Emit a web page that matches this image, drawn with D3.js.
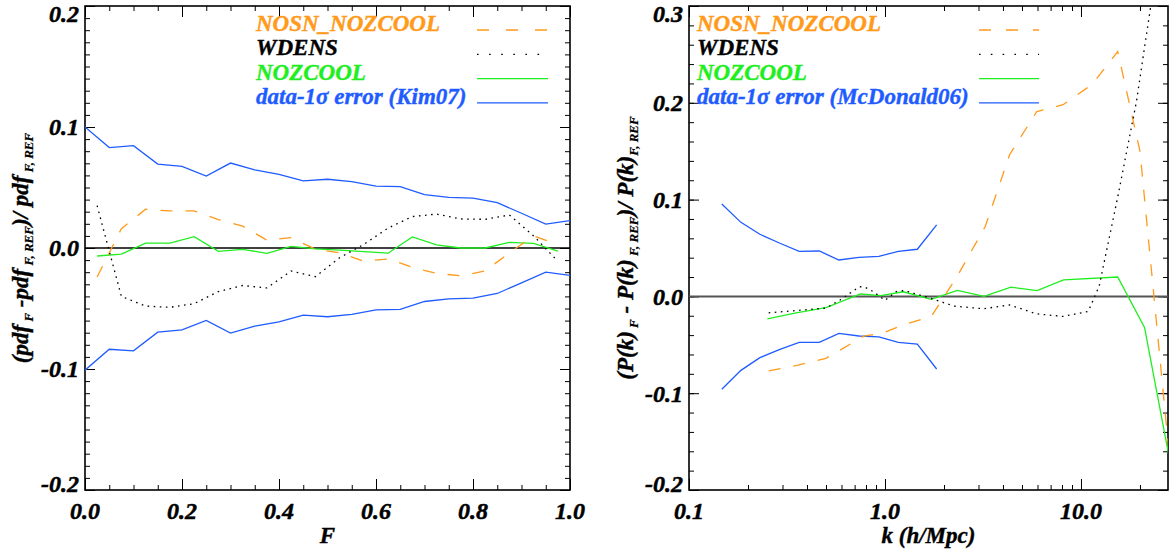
<!DOCTYPE html>
<html lang='en'>
<head>
<meta charset='UTF-8'>
<title>Flux pdf and P(k) residuals</title>
<script src='https://d3js.org/d3.v7.min.js'></script>
<style>
   body { margin: 0; background: #fff; }
   svg text { font-family: 'Liberation Serif', 'DejaVu Serif', serif; font-weight: bold; font-style: italic; }
</style>
</head>
<body>
<div id='chart'></div>
<script>

// ---- left panel: flux pdf residuals ----
const pdfF = [0.00, 0.05, 0.10, 0.15, 0.20, 0.25, 0.30, 0.35, 0.40, 0.45, 0.50,
              0.55, 0.60, 0.65, 0.70, 0.75, 0.80, 0.85, 0.90, 0.95, 1.00];
const pdfErrUp = [0.100, 0.083, 0.0846, 0.0694, 0.0675, 0.0595, 0.0702, 0.0645, 0.0609, 0.0554, 0.0568,
                  0.0548, 0.0512, 0.0507, 0.0441, 0.0419, 0.0413, 0.0375, 0.0287, 0.0198, 0.0226];
const pdfErrLo = [-0.101, -0.0837, -0.085, -0.0696, -0.0676, -0.0598, -0.0703, -0.0645, -0.061, -0.0555, -0.0568,
                  -0.0549, -0.0512, -0.0508, -0.0442, -0.042, -0.0414, -0.0376, -0.0288, -0.0199, -0.0227];
const pdfFMid = [0.025, 0.075, 0.125, 0.175, 0.225, 0.275, 0.325, 0.375, 0.425, 0.475,
                 0.525, 0.575, 0.625, 0.675, 0.725, 0.775, 0.825, 0.875, 0.925, 0.975];
const pdfNosn = [-0.024, 0.016, 0.032, 0.0306, 0.0306, 0.0235, 0.018, 0.0065, 0.0085, -0.001,
                 -0.004, -0.011, -0.009, -0.016, -0.021, -0.023, -0.019, -0.004, 0.010, 0.003];
const pdfWdens = [0.035, -0.040, -0.048, -0.049, -0.046, -0.036, -0.031, -0.033, -0.019, -0.0237,
                  -0.008, 0.003, 0.0165, 0.026, 0.028, 0.024, 0.0237, 0.0273, 0.010, -0.011];
const pdfNozcool = [-0.0066, -0.005, 0.0041, 0.0041, 0.0094, -0.0028, -0.0011, -0.0044, 0.0014, -0.0008,
                    -0.0017, -0.003, -0.0043, 0.0091, 0.0025, 0.0, 0.0, 0.0047, 0.0039, -0.0025];

// ---- right panel: P(k) residuals ----
const pkErrK = [0.147, 0.184, 0.230, 0.291, 0.365, 0.462, 0.582, 0.736, 0.931, 1.169, 1.462, 1.835];
const pkErrUp = [0.0955, 0.0765, 0.0642, 0.0549, 0.0466, 0.0469, 0.0376, 0.0404, 0.0414, 0.0466, 0.0487, 0.0738];
const pkErrLo = [-0.096, -0.0764, -0.0633, -0.0547, -0.0475, -0.0475, -0.0382, -0.0409, -0.0419, -0.0475, -0.0492, -0.075];

const nosnK = [0.255, 0.36, 0.50, 0.78, 0.97, 1.25, 1.72, 2.34, 3.25, 4.33, 5.95, 8.1, 11.4, 15.4, 20.0, 28.4];
const nosnV = [-0.077, -0.071, -0.064, -0.041, -0.038, -0.029, -0.021, 0.021, 0.0724, 0.1466, 0.191, 0.198, 0.219, 0.253, 0.150, -0.170];

const wdensK = [0.255, 0.36, 0.50, 0.59, 0.74, 0.79, 0.87, 1.0, 1.14, 1.26, 1.4, 1.6, 1.84, 2.24, 3.18, 4.33,
                5.9, 8.1, 10.9, 12.4, 15.4, 19.2, 22.7, 24.5];
const wdensV = [-0.017, -0.0145, -0.012, -0.0037, 0.010, 0.0095, 0.005, -0.004, 0.005, 0.006, 0.0032, -0.0003,
                -0.004, -0.010, -0.0128, -0.0088, -0.018, -0.0207, -0.0155, 0.011, 0.1026, 0.2015, 0.30, 0.345];

const nozK = [0.251, 0.352, 0.50, 0.75, 0.95, 1.24, 1.72, 2.34, 3.2, 4.39, 5.97, 8.15, 15.4, 21.1, 28.3];
const nozV = [-0.0232, -0.017, -0.0115, 0.0025, 0.0008, 0.0048, -0.003, 0.0062, 0.0, 0.0095, 0.006, 0.017, 0.020, -0.032, -0.168];

const legendNames = ['NOSN_NOZCOOL', 'WDENS', 'NOZCOOL'];
const orange = '#ff9a1a', green = '#1fee1f', blue = '#1f5cff';

const svg = d3.select('#chart').append('svg').attr('width', 1170).attr('height', 554);
const fmt = d => d3.format('.1f')(d).replace('\u2212', '-');

function panel(o) {
   const x = o.x, y = o.y;
   const [x0, x1] = x.range(), [y0, y1] = y.range(); // y0 bottom, y1 top
   const g = svg.append('g');

   g.append('clipPath').attr('id', o.id).append('rect')
      .attr('x', x0).attr('y', y1).attr('width', x1 - x0).attr('height', y0 - y1);

   // ticks on all four sides, pointing inward
   const tick = (axisFn, scale, values, len, tr) => {
      g.append('g').attr('transform', tr)
         .call(axisFn(scale).tickValues(values).tickSize(-len).tickFormat(''))
         .call(a => a.select('.domain').remove())
         .call(a => a.selectAll('line').attr('stroke', '#000'));
   };
   tick(d3.axisBottom, x, o.xMajor, 11, `translate(0,${y0})`);
   tick(d3.axisBottom, x, o.xMinor, 5, `translate(0,${y0})`);
   tick(d3.axisTop, x, o.xMajor, 11, `translate(0,${y1})`);
   tick(d3.axisTop, x, o.xMinor, 5, `translate(0,${y1})`);
   tick(d3.axisLeft, y, o.yMajor, 10, `translate(${x0},0)`);
   tick(d3.axisLeft, y, o.yMinor, 5, `translate(${x0},0)`);
   tick(d3.axisRight, y, o.yMajor, 10, `translate(${x1},0)`);
   tick(d3.axisRight, y, o.yMinor, 5, `translate(${x1},0)`);

   g.append('rect').attr('x', x0).attr('y', y1).attr('width', x1 - x0).attr('height', y0 - y1)
      .attr('fill', 'none').attr('stroke', '#000').attr('stroke-width', 1.6);

   // tick labels (a thin stroke makes them as heavy as the original)
   g.selectAll('.xl').data(o.xMajor).join('text')
      .attr('x', d => x(d)).attr('y', y0 + 29).attr('text-anchor', 'middle')
      .attr('font-size', 24).attr('stroke', '#000').attr('stroke-width', 0.5).text(fmt);
   g.selectAll('.yl').data(o.yMajor).join('text')
      .attr('x', x0 - 6).attr('y', d => Math.min(Math.max(y(d), y1 + 8), y0 - 6))
      .attr('dy', '0.35em').attr('text-anchor', 'end')
      .attr('font-size', 24).attr('stroke', '#000').attr('stroke-width', 0.5).text(fmt);

   // zero line
   g.append('line').attr('x1', x0).attr('x2', x1).attr('y1', y(0)).attr('y2', y(0))
      .attr('stroke', o.zeroColor).attr('stroke-width', o.zeroWidth);

   const line = d3.line().x(d => x(d[0])).y(d => y(d[1]));
   const plot = g.append('g').attr('clip-path', `url(#${o.id})`);
   o.series.forEach(s => {
      plot.append('path').datum(d3.zip(s.x, s.y))
         .attr('d', line).attr('fill', 'none')
         .attr('stroke', s.color).attr('stroke-width', 1.3)
         .attr('stroke-dasharray', s.dash || null);
   });

   // legend
   o.legend.forEach((e, i) => {
      const by = 31 + 24.3 * i;
      g.append('text').attr('x', o.legX).attr('y', by).attr('font-size', 23)
         .attr('fill', e.color).attr('stroke', e.color).attr('stroke-width', 0.4).text(e.name);
      g.append('line').attr('x1', o.legL[0]).attr('x2', o.legL[1]).attr('y1', by - 1).attr('y2', by - 1)
         .attr('stroke', e.color).attr('stroke-width', 1.3)
         .attr('stroke-dasharray', e.ldash || null);
   });

   // axis titles
   g.append('text').attr('x', (x0 + x1) / 2).attr('y', y0 + 53).attr('text-anchor', 'middle')
      .attr('font-size', 23).attr('stroke', '#000').attr('stroke-width', 0.4).text(o.xTitle);
   const yt = g.append('text').attr('transform', `translate(${o.yTitleX},${(y0 + y1) / 2}) rotate(-90)`)
      .attr('text-anchor', 'middle').attr('font-size', 23)
      .attr('stroke', '#000').attr('stroke-width', 0.4);
   o.yTitle.forEach(p => {
      yt.append('tspan').attr('font-size', p.sub ? 13 : 23).attr('stroke-width', p.sub ? 0.2 : 0.4)
         .attr('dy', p.sub ? 5 : (p.back ? -5 : 0)).text(p.t);
   });
}

const dashL = '12,13', dotL = '1.6,4.5';

panel({
   id: 'clipL',
   x: d3.scaleLinear().domain([0, 1]).range([85, 570]),
   y: d3.scaleLinear().domain([-0.2, 0.2]).range([490, 6]),
   xMajor: [0, 0.2, 0.4, 0.6, 0.8, 1.0],
   xMinor: d3.range(0, 1.0001, 0.05),
   yMajor: [-0.2, -0.1, 0, 0.1, 0.2],
   yMinor: d3.range(-0.2, 0.2001, 0.01),
   zeroColor: '#000', zeroWidth: 1.5,
   series: [
      { x: pdfF, y: pdfErrUp, color: blue },
      { x: pdfF, y: pdfErrLo, color: blue },
      { x: pdfFMid, y: pdfNozcool, color: green },
      { x: pdfFMid, y: pdfNosn, color: orange, dash: dashL },
      { x: pdfFMid, y: pdfWdens, color: '#000', dash: dotL }
   ],
   legX: 256, legL: [477, 548],
   legend: [
      { name: legendNames[0], color: orange, ldash: '12,17' },
      { name: legendNames[1], color: '#000', ldash: '1.6,10.5' },
      { name: legendNames[2], color: green },
      { name: 'data-1σ error (Kim07)', color: blue }
   ],
   xTitle: 'F',
   yTitleX: 28,
   yTitle: [{ t: '(pdf' }, { t: ' F', sub: 1 }, { t: ' -pdf', back: 1 }, { t: ' F, REF', sub: 1 },
            { t: ')/ pdf', back: 1 }, { t: ' F, REF', sub: 1 }]
});

panel({
   id: 'clipR',
   x: d3.scaleLog().domain([0.1, 27.8]).range([689, 1168]),
   y: d3.scaleLinear().domain([-0.2, 0.3]).range([490, 6]),
   xMajor: [0.1, 1, 10],
   xMinor: [0.2, 0.3, 0.4, 0.5, 0.6, 0.7, 0.8, 0.9, 2, 3, 4, 5, 6, 7, 8, 9, 20],
   yMajor: [-0.2, -0.1, 0, 0.1, 0.2, 0.3],
   yMinor: d3.range(-0.2, 0.3001, 0.02),
   zeroColor: '#555', zeroWidth: 2,
   series: [
      { x: pkErrK, y: pkErrUp, color: blue },
      { x: pkErrK, y: pkErrLo, color: blue },
      { x: nozK, y: nozV, color: green },
      { x: nosnK, y: nosnV, color: orange, dash: dashL },
      { x: wdensK, y: wdensV, color: '#000', dash: dotL }
   ],
   legX: 697, legL: [979, 1039],
   legend: [
      { name: legendNames[0], color: orange, ldash: '12,15' },
      { name: legendNames[1], color: '#000', ldash: '1.6,10.2' },
      { name: legendNames[2], color: green },
      { name: 'data-1σ error (McDonald06)', color: blue }
   ],
   xTitle: 'k (h/Mpc)',
   yTitleX: 633,
   yTitle: [{ t: '(P(k)' }, { t: ' F', sub: 1 }, { t: ' - P(k)', back: 1 }, { t: ' F, REF', sub: 1 },
            { t: ')/ P(k)', back: 1 }, { t: 'F, REF', sub: 1 }]
});

</script>
</body>
</html>
